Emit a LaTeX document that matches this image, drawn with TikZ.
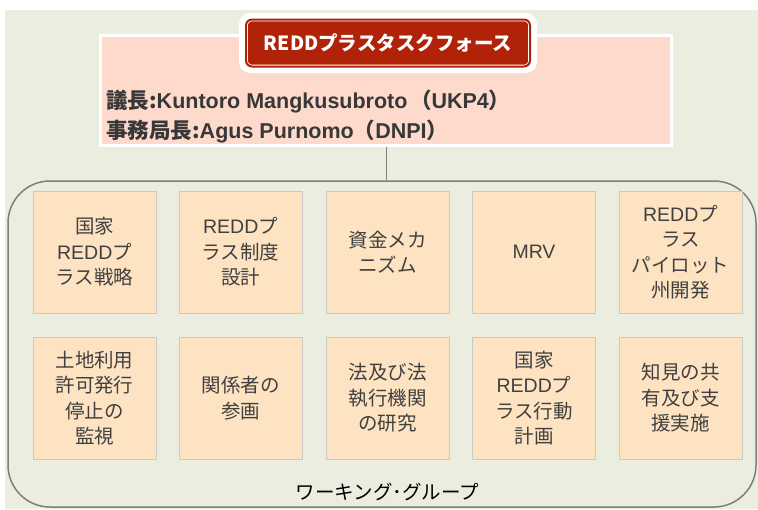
\documentclass[tikz,border=0pt]{standalone}
\usepackage{fontspec}
\setmainfont{Noto Sans CJK JP}
\newfontfamily\lat{Liberation Sans}
\definecolor{bggreen}{HTML}{EBEEDF}
\definecolor{pinkbox}{HTML}{FDDACC}
\definecolor{redbox}{HTML}{B02308}
\definecolor{wgfill}{HTML}{FDE3C1}
\definecolor{wgline}{HTML}{C9C9C9}
\definecolor{wgtext}{HTML}{404040}
\definecolor{headtext}{HTML}{383838}
\definecolor{frameline}{HTML}{7F7F7F}
\tikzset{
  wgbox/.style={draw=wgline, line width=1pt, fill=wgfill, text=wgtext, align=center,
    minimum width=123pt, minimum height=122pt, inner sep=0pt,
    font=\fontsize{19.5}{25.5}\selectfont},
  headline/.style={anchor=west, text=headtext, inner sep=0pt, font=\fontsize{21.5}{24}\selectfont\bfseries},
}
\begin{document}
\begin{tikzpicture}[x=1pt,y=-1pt]
\useasboundingbox (0,0) rectangle (758,509);
\fill[white] (0,0) rectangle (758,509);
\fill[bggreen] (5,10) rectangle (758,509);
% working group frame
\draw[frameline, line width=1.5pt, fill=bggreen, rounded corners=42pt] (8,181) rectangle (756,507);
\coordinate (frametop) at (386,181);
% task force box
\node[draw=white, line width=3pt, fill=pinkbox, minimum width=571pt, minimum height=110pt, inner sep=0pt] (tf) at (385.5,90) {};
\draw[frameline, line width=1pt] (tf.south -| frametop) -- (frametop);
% title
\node[fill=white, rounded corners=11pt, minimum width=298pt, minimum height=60pt, inner sep=0pt] (titleouter) at (388,43) {};
\node[fill=redbox, draw=white, line width=0.8pt, double=redbox, double distance=2pt, rounded corners=6pt,
  minimum width=284pt, minimum height=47pt, inner sep=0pt, text=white,
  font=\fontsize{19.5}{22}\selectfont\bfseries] (title) at (388,43) {REDDプラスタスクフォース};
\node[headline] (chair) at (106,101) {議長:{\lat Kuntoro Mangkusubroto}\hspace{2.5pt}（{\lat UKP4}）};
\node[headline] (sec) at (106,131) {事務局長:{\lat Agus Purnomo}（{\lat DNPI}）};
% boxes
\node[wgbox] (b1) at (94.5,252) {国家\\{\lat REDD}プ\\ラス戦略};
\node[wgbox] (b2) at (240.5,252) {{\lat REDD}プ\\ラス制度\\設計};
\node[wgbox] (b3) at (387.5,252) {資金メカ\\ニズム};
\node[wgbox] (b4) at (534,252) {{\lat MRV}};
\node[wgbox] (b5) at (680.5,252) {{\lat REDD}プ\\ラス\\パイロット\\州開発};
\node[wgbox] (b6) at (94.5,398) {土地利用\\許可発行\\停止の\\監視};
\node[wgbox] (b7) at (240.5,398) {関係者の\\参画};
\node[wgbox] (b8) at (387.5,398) {法及び法\\執行機関\\の研究};
\node[wgbox] (b9) at (534,398) {国家\\{\lat REDD}プ\\ラス行動\\計画};
\node[wgbox] (b10) at (680.5,398) {知見の共\\有及び支\\援実施};
\node[text=black, inner sep=0pt, font=\fontsize{19.5}{22}\selectfont] (wg) at (387.5,492) {ワーキング･グループ};
\end{tikzpicture}
\end{document}
